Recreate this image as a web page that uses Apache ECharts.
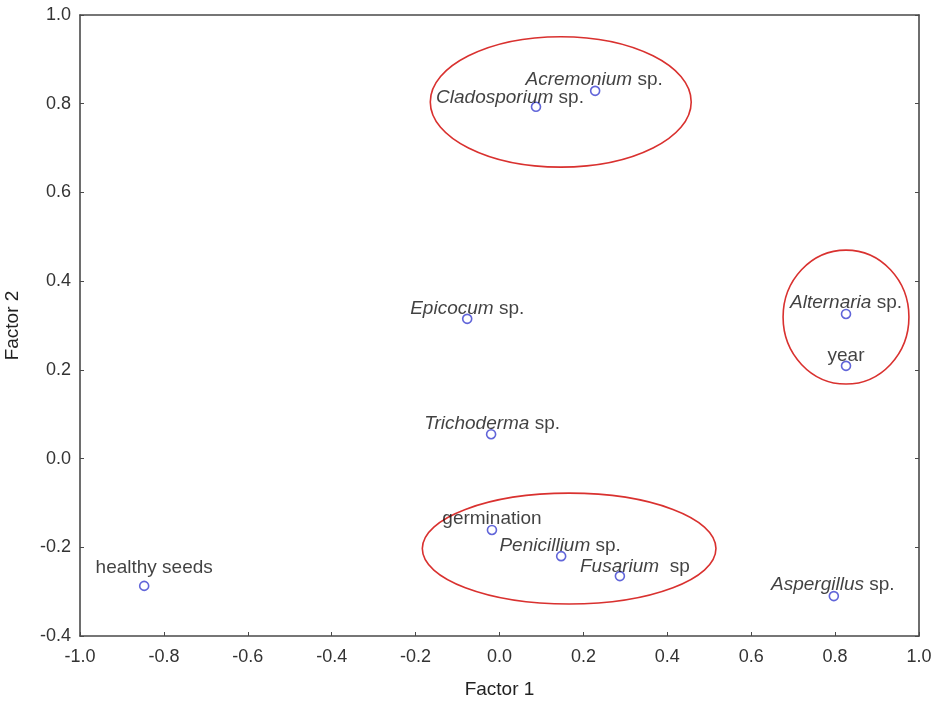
<!DOCTYPE html>
<html>
<head>
<meta charset="utf-8">
<style>
  html, body { margin: 0; padding: 0; background: #fff; }
  #chart { width: 941px; height: 701px; }
</style>
<script src="https://cdn.jsdelivr.net/npm/echarts@6/dist/echarts.min.js"></script>
</head>
<body>
<div id="chart"></div>
<script>
// 变量名（属名斜体 + 后缀）
var genus = ['Acremonium', 'Cladosporium', 'Epicocum', 'Trichoderma', 'Alternaria', '', '', 'Penicillium', 'Fusarium', 'Aspergillus', ''];
var suffix = [' sp.', ' sp.', ' sp.', ' sp.', ' sp.', 'year', 'germination', ' sp.', '  sp', ' sp.', 'healthy seeds'];
// 因子载荷
var factor1 = [0.228, 0.087, -0.077, -0.020, 0.826, 0.826, -0.018, 0.147, 0.287, 0.797, -0.847];
var factor2 = [0.829, 0.793, 0.315, 0.055, 0.326, 0.209, -0.161, -0.220, -0.265, -0.310, -0.287];
// 分组椭圆：中心 x, 中心 y, 半轴 x, 半轴 y
var groupCx = [0.146, 0.826, 0.166];
var groupCy = [0.804, 0.319, -0.203];
var groupRx = [0.311, 0.150, 0.350];
var groupRy = [0.147, 0.151, 0.125];

// 标签相对点的偏移（像素）
var labelOffset = [[-1, -11], [-26, -9], [0, -10], [1, -10], [0, -11], [0, -10], [0, -11], [-1, -10], [15, -9], [-1, -11], [10, -18]];

var font = 'Liberation Sans, Arial, sans-serif';

var points = factor1.map(function (x, i) {
    var txt = genus[i] ? '{i|' + genus[i] + '}{n|' + suffix[i] + '}' : '{n|' + suffix[i] + '}';
    return {
        value: [x, factor2[i]],
        label: { formatter: txt, offset: labelOffset[i] }
    };
});

var ellipses = groupCx.map(function (cx, i) {
    return [cx, groupCy[i], groupRx[i], groupRy[i]];
});

var frameLine = { onZero: false, lineStyle: { color: '#4a4a4a', width: 1.6 } };

var chart = echarts.init(document.getElementById('chart'));
chart.setOption({
    animation: false,
    grid: { left: 80, right: 22, top: 15, bottom: 65, containLabel: false, outerBoundsMode: 'none' },
    xAxis: [{
        type: 'value', min: -1, max: 1, interval: 0.2,
        name: 'Factor 1', nameLocation: 'middle', nameGap: 44,
        nameTextStyle: { fontFamily: font, fontSize: 19, color: '#222' },
        axisLine: frameLine,
        axisTick: { inside: true, length: 4, lineStyle: { color: '#4a4a4a' } },
        axisLabel: { fontFamily: font, fontSize: 18, color: '#333', margin: 12,
            formatter: function (v) { return v.toFixed(1); } },
        splitLine: { show: false }
    }, {
        type: 'value', min: -1, max: 1, position: 'top',
        axisLine: frameLine,
        axisTick: { show: false }, axisLabel: { show: false }, splitLine: { show: false }
    }],
    yAxis: [{
        type: 'value', min: -0.4, max: 1, interval: 0.2,
        name: 'Factor 2', nameLocation: 'middle', nameGap: 58,
        nameTextStyle: { fontFamily: font, fontSize: 19, color: '#222' },
        axisLine: frameLine,
        axisTick: { inside: true, length: 4, lineStyle: { color: '#4a4a4a' } },
        axisLabel: { fontFamily: font, fontSize: 18, color: '#333', margin: 9,
            formatter: function (v) { return v.toFixed(1); } },
        splitLine: { show: false }
    }, {
        type: 'value', min: -0.4, max: 1, interval: 0.2, position: 'right',
        axisLine: frameLine,
        axisTick: { inside: true, length: 4, lineStyle: { color: '#4a4a4a' } },
        axisLabel: { show: false }, splitLine: { show: false }
    }],
    series: [{
        type: 'custom',
        silent: true,
        data: ellipses,
        renderItem: function (params, api) {
            var c = api.coord([api.value(0), api.value(1)]);
            var s = api.size([api.value(2), api.value(3)]);
            return {
                type: 'ellipse',
                shape: { cx: c[0], cy: c[1], rx: s[0], ry: s[1] },
                style: { fill: null, stroke: '#d9312f', lineWidth: 1.6 }
            };
        },
        z: 1
    }, {
        type: 'scatter',
        data: points,
        symbol: 'circle',
        symbolSize: 9,
        itemStyle: { color: '#fff', borderColor: '#3a3fd0', borderWidth: 1.6 },
        label: {
            show: true,
            position: 'inside',
            align: 'center',
            verticalAlign: 'middle',
            color: '#111',
            textBorderWidth: 0,
            rich: {
                i: { fontFamily: font, fontSize: 19, fontStyle: 'italic', color: '#111', textBorderWidth: 0 },
                n: { fontFamily: font, fontSize: 19, color: '#111', textBorderWidth: 0 }
            }
        },
        z: 3
    }]
});
</script>
</body>
</html>
